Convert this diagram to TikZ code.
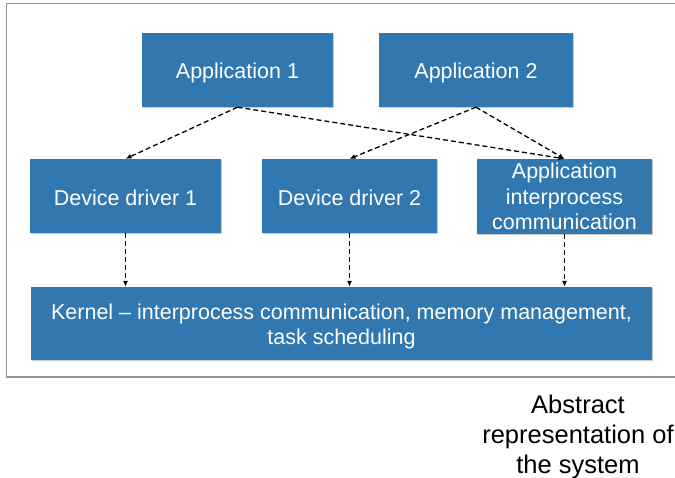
\documentclass[tikz,border=0pt]{standalone}
\usepackage{fontspec}
\setmainfont{Liberation Sans}
\usetikzlibrary{arrows.meta,shadows}
\definecolor{boxblue}{RGB}{48,120,175}
\definecolor{framegray}{RGB}{150,150,150}
\newcommand{\lowertxt}[2]{\raisebox{-#1}[\height][\depth]{#2}}
\tikzset{
  blk/.style={fill=boxblue, draw=none, text=white, align=center, inner sep=0pt,
    font=\fontsize{21.5}{25.5}\selectfont,
    drop shadow={shadow xshift=1pt, shadow yshift=-1.5pt, opacity=0.35, fill=black!60}},
  conn/.style={draw=black, line width=1.3pt, dash pattern=on 5pt off 3pt,
    -{Latex[length=6pt,width=5pt]}},
}
\begin{document}
\begin{tikzpicture}[x=1pt,y=-1pt]
\useasboundingbox (0,0) rectangle (675,478);
\clip (0,0) rectangle (675,478);
\fill[white] (0,0) rectangle (675,478);
\draw[framegray, line width=1.3pt] (6.5,3.5) rectangle (690,377);
\node[blk, minimum width=191pt, minimum height=74pt] (app1) at (237.5,70) {\lowertxt{3pt}{Application 1}};
\node[blk, minimum width=194pt, minimum height=74pt] (app2) at (476,70) {\lowertxt{3pt}{Application 2}};
\node[blk, minimum width=191pt, minimum height=74pt] (dd1) at (125.5,196) {\lowertxt{2pt}{Device driver 1}};
\node[blk, minimum width=175pt, minimum height=74pt] (dd2) at (349.5,196) {\lowertxt{2pt}{Device driver 2}};
\node[blk, minimum width=175pt, minimum height=75pt] (aic) at (564.5,196.5) {Application\\interprocess\\communication};
\node[blk, minimum width=621pt, minimum height=73pt] (kern) at (341.5,323.5) {\lowertxt{3pt}{\parbox{600pt}{\centering Kernel -- interprocess communication, memory management,\\task scheduling}}};
\node[font=\fontsize{25.5}{30}\selectfont, align=center, text=black] (cap) at (578,437) {Abstract\\representation of\\the system};
\draw[conn] (app1.south) -- (dd1.north);
\draw[conn] (app1.south) -- (aic.north);
\draw[conn] (app2.south) -- (dd2.north);
\draw[conn] (app2.south) -- (aic.north);
\draw[conn] (dd1.south) -- (dd1.south |- kern.north);
\draw[conn] (dd2.south) -- (dd2.south |- kern.north);
\draw[conn] (aic.south) -- (aic.south |- kern.north);
\end{tikzpicture}
\end{document}
